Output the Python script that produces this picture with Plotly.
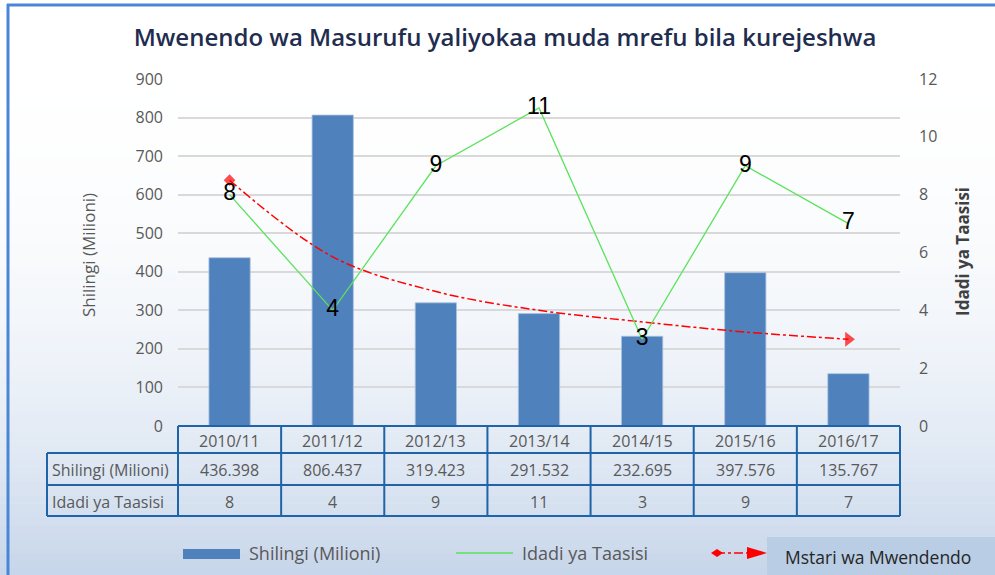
import plotly.graph_objects as go

# ---------------- data ----------------
categories = ["2010/11", "2011/12", "2012/13", "2013/14", "2014/15", "2015/16", "2016/17"]
shilingi = [436.398, 806.437, 319.423, 291.532, 232.695, 397.576, 135.767]
taasisi = [8, 4, 9, 11, 3, 9, 7]
mwenendo = [8.5, 5.85, 4.65, 4.0, 3.6, 3.25, 3.0]  # trend line (right axis)

title_text = "Mwenendo wa Masurufu yaliyokaa muda mrefu bila kurejeshwa"
left_title = "Shilingi (Milioni)"
right_title = "Idadi ya Taasisi"
row_labels = ["Shilingi (Milioni)", "Idadi ya Taasisi"]
legend_labels = ["Shilingi (Milioni)", "Idadi ya Taasisi", "Mstari wa Mwendendo"]

# ---------------- geometry ----------------
W, H = 995, 575
L, R, T, B = 178, 900, 79, 426  # plot area in pixels
PW, PH = R - L, B - T


def px(x):
    return (x - L) / PW


def py(y):
    return (B - y) / PH


BAR = "#4F81BD"
GREEN = "#5BE35B"
RED = "#FF0000"
TBL = "#1F63A8"
GRAY = "#595959"
FONT = "Open Sans"

fig = go.Figure()

fig.add_trace(go.Bar(
    x=categories, y=shilingi, name=legend_labels[0],
    marker=dict(color=BAR, line=dict(color="#A9C1E0", width=0.8)),
    width=0.4, yaxis="y", showlegend=False,
))

fig.add_trace(go.Scatter(
    x=categories, y=mwenendo, name=legend_labels[2], yaxis="y2",
    mode="lines+markers", line=dict(color=RED, width=1.5, dash="dashdot", shape="spline"),
    marker=dict(symbol=["diamond"] + ["circle"] * 5 + ["triangle-right"],
                size=[9, 0, 0, 0, 0, 0, 13], color=RED, line=dict(width=0)),
    showlegend=False, hoverinfo="skip",
))

fig.add_trace(go.Scatter(
    x=categories, y=taasisi, name=legend_labels[1], yaxis="y2",
    mode="lines+text", line=dict(color=GREEN, width=1.3),
    text=[str(v) for v in taasisi], textposition="middle center",
    textfont=dict(size=23, color="#000000", family="Liberation Sans"),
    showlegend=False,
))

shapes = []
annotations = []


def ann(x, y, text, size, color=GRAY, xanchor="center", angle=0, family=FONT):
    annotations.append(dict(x=px(x), y=py(y), xref="paper", yref="paper", text=text, showarrow=False,
                            xanchor=xanchor, yanchor="middle", textangle=angle,
                            font=dict(size=size, color=color, family=family)))


# background gradient
n = 80
top_c = (255, 255, 255)
bot_c = (198, 213, 234)
for i in range(n):
    y0 = i * H / n
    y1 = (i + 1) * H / n
    t = ((y0 + y1) / 2) / H
    f = t ** 2.6
    c = tuple(round(top_c[k] + (bot_c[k] - top_c[k]) * f) for k in range(3))
    shapes.append(dict(type="rect", xref="paper", yref="paper", layer="below",
                       x0=px(0), x1=px(W), y0=py(y0), y1=py(y1 + 0.6),
                       fillcolor="rgb(%d,%d,%d)" % c, line=dict(width=0)))

# outer border (top and left)
shapes.append(dict(type="line", xref="paper", yref="paper", x0=px(7), x1=px(W), y0=py(5), y1=py(5),
                   line=dict(color="#4A86D8", width=3)))
shapes.append(dict(type="line", xref="paper", yref="paper", x0=px(8), x1=px(8), y0=py(4), y1=py(H),
                   line=dict(color="#4A86D8", width=3)))

# data table
rows_y = [426, 453, 485, 516]
col_x = [L + PW * i / len(categories) for i in range(len(categories) + 1)]
tbl_left = 47
shapes.append(dict(type="line", xref="paper", yref="paper", x0=px(L), x1=px(R), y0=py(rows_y[0]), y1=py(rows_y[0]),
                   line=dict(color=TBL, width=2)))
for yy in rows_y[1:]:
    shapes.append(dict(type="line", xref="paper", yref="paper", x0=px(tbl_left), x1=px(R), y0=py(yy), y1=py(yy),
                       line=dict(color=TBL, width=2)))
for xx in col_x:
    shapes.append(dict(type="line", xref="paper", yref="paper", x0=px(xx), x1=px(xx), y0=py(rows_y[0]), y1=py(rows_y[3]),
                       line=dict(color=TBL, width=2)))
shapes.append(dict(type="line", xref="paper", yref="paper", x0=px(tbl_left), x1=px(tbl_left), y0=py(rows_y[1]), y1=py(rows_y[3]),
                   line=dict(color=TBL, width=2)))

row_vals = [["%.3f" % v for v in shilingi], [str(v) for v in taasisi]]
for i, cat in enumerate(categories):
    cx = (col_x[i] + col_x[i + 1]) / 2
    ann(cx, (rows_y[0] + rows_y[1]) / 2 + 1, cat, 16)
    for r in range(2):
        ann(cx, (rows_y[r + 1] + rows_y[r + 2]) / 2 + 1, row_vals[r][i], 16)
for r in range(2):
    ann(tbl_left + 3, (rows_y[r + 1] + rows_y[r + 2]) / 2 + 1, row_labels[r], 16, xanchor="left")

# legend (manual)
legend_y = 553
shapes.append(dict(type="rect", xref="paper", yref="paper", x0=px(767), x1=px(W), y0=py(537), y1=py(H + 2),
                   fillcolor="#B9CDE5", line=dict(width=0)))
shapes.append(dict(type="rect", xref="paper", yref="paper", x0=px(183), x1=px(240), y0=py(549), y1=py(559),
                   fillcolor=BAR, line=dict(width=0)))
ann(247, legend_y, legend_labels[0], 18, xanchor="left")
shapes.append(dict(type="line", xref="paper", yref="paper", x0=px(456), x1=px(513), y0=py(legend_y), y1=py(legend_y),
                   line=dict(color=GREEN, width=1.5)))
ann(520, legend_y, legend_labels[1], 18, xanchor="left")
shapes.append(dict(type="line", xref="paper", yref="paper", x0=px(716), x1=px(752), y0=py(legend_y), y1=py(legend_y),
                   line=dict(color=RED, width=1.5, dash="dashdot")))
shapes.append(dict(type="path", xref="paper", yref="paper",
                   path="M %f %f L %f %f L %f %f L %f %f Z" % (px(711), py(legend_y), px(717), py(legend_y - 4),
                                                               px(723), py(legend_y), px(717), py(legend_y + 4)),
                   fillcolor=RED, line=dict(width=0)))
shapes.append(dict(type="path", xref="paper", yref="paper",
                   path="M %f %f L %f %f L %f %f Z" % (px(747), py(legend_y - 6), px(767), py(legend_y),
                                                      px(747), py(legend_y + 6)),
                   fillcolor=RED, line=dict(width=0)))
ann(783, legend_y + 4, legend_labels[2], 17.5, color="#262626", xanchor="left")

# axis titles
ann(88, 255, left_title, 17, angle=-90)
ann(962, 252, "<b>%s</b>" % right_title, 17, color="#404040", angle=-90)

fig.update_layout(
    width=W, height=H,
    margin=dict(l=L, r=W - R, t=T, b=H - B, pad=0),
    paper_bgcolor="#FFFFFF", plot_bgcolor="rgba(0,0,0,0)",
    title=dict(text=title_text, x=505 / W, xanchor="center", y=1 - 38 / H, yanchor="middle",
               font=dict(size=24, color="#1F2D4F", family=FONT, weight=600)),
    showlegend=False,
    xaxis=dict(type="category", range=[-0.5, len(categories) - 0.5], showticklabels=False, showgrid=False,
               zeroline=False, showline=False, ticks=""),
    yaxis=dict(range=[0, 900], dtick=100, showgrid=True, gridcolor="#D9D9D9", gridwidth=1.5, zeroline=False,
               showline=False, ticks="", tickfont=dict(size=16, color=GRAY, family=FONT), ticklabelstandoff=14),
    yaxis2=dict(range=[0, 12], dtick=2, overlaying="y", side="right", showgrid=False, zeroline=False,
                showline=False, ticks="", tickfont=dict(size=16, color=GRAY, family=FONT), ticklabelstandoff=18),
    shapes=shapes,
    annotations=annotations,
)

fig.write_html("out.html", config={"displayModeBar": False},
               post_script="document.body.style.margin='0px';document.body.style.overflow='hidden';")
